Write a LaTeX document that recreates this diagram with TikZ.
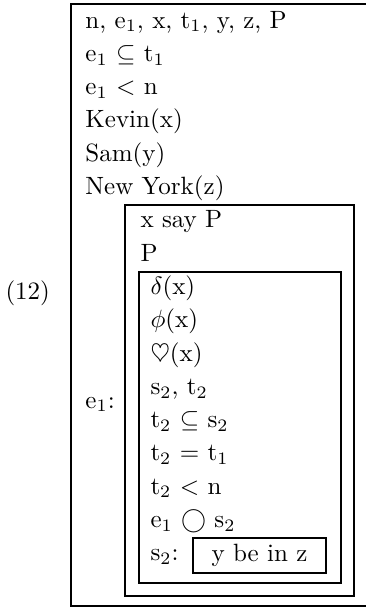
\documentclass[tikz,border=0pt]{standalone}
\usepackage{amsmath,amssymb}
\usepackage{tikz}
\usetikzlibrary{positioning}
\tikzset{drsrow/.style={anchor=base west, inner sep=0pt},
  drsbox/.style={line width=0.5pt}}

\begin{document}
\begin{tikzpicture}[x=0.4pt, y=-0.4pt]
\useasboundingbox (0,0) rectangle (366,608);
% boxes (outer one is cut at the right)
\draw[drsbox] (366,4)--(71,4)--(71,606)--(366,606);
\draw[drsbox] (125,205) rectangle (354,596);
\draw[drsbox] (139,272) rectangle (341,583);

\node[drsrow] (num) at (5,299) {(12)};
\node[drsrow] (evlab) at (85,408) {e$_1$:};

% outer conditions
\node[drsrow] (r0) at (85,28) {n, e$_1$, x, t$_1$, y, z, P};
\node[drsrow] (r1) at (85,61.3) {e$_1$ $\subseteq$ t$_1$};
\node[drsrow] (r2) at (85,94.6) {e$_1$ $<$ n};
\node[drsrow] (r3) at (85,127.9) {Kevin(x)};
\node[drsrow] (r4) at (85,161.2) {Sam(y)};
\node[drsrow] (r5) at (85,194.5) {New York(z)};

% middle box
\node[drsrow] (m0) at (140,227.8) {x say P};
\node[drsrow] (m1) at (140,261.1) {P};

% inner box
\node[drsrow] (i0) at (150,294.4) {$\delta$(x)};
\node[drsrow] (i1) at (150,327.7) {$\phi$(x)};
\node[drsrow] (i2) at (150,361) {$\heartsuit$(x)};
\node[drsrow] (i3) at (150,394.3) {s$_2$, t$_2$};
\node[drsrow] (i4) at (150,427.6) {t$_2$ $\subseteq$ s$_2$};
\node[drsrow] (i5) at (150,460.9) {t$_2$ $=$ t$_1$};
\node[drsrow] (i6) at (150,494.2) {t$_2$ $<$ n};
\node[drsrow] (i7) at (150,527.5) {e$_1$ $\bigcirc$ s$_2$};
\node[drsrow] (i8) at (150,560.8) {s$_2$:};
\node[draw, drsbox, minimum width=53.2pt, minimum height=14pt, inner sep=0pt] (yz) at (259.5,555.5) {y be in z};
\end{tikzpicture}
\end{document}
